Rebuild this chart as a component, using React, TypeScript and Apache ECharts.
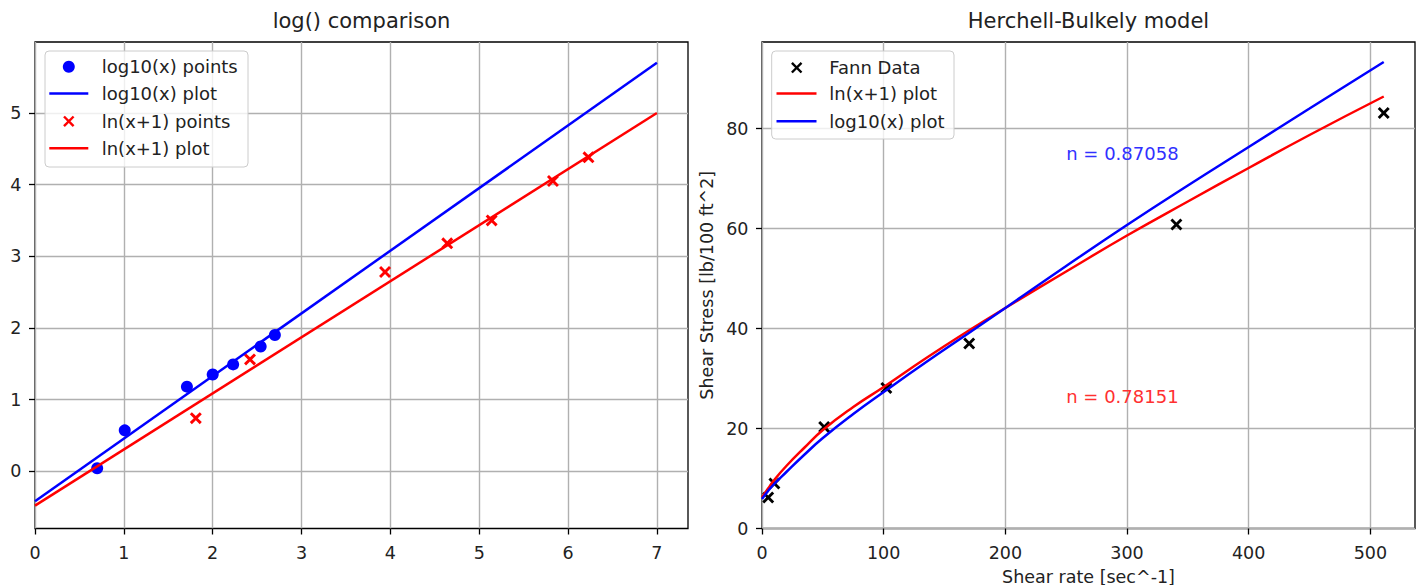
import React, { useEffect, useRef } from "react";
import * as echarts from "echarts";

// ---------- Left plot data: log() comparison ----------
const log10PointsX = [0.70, 1.01, 1.71, 2.00, 2.23, 2.54, 2.70];
const log10PointsY = [0.04, 0.57, 1.18, 1.35, 1.49, 1.74, 1.90];
const lnPointsX = [1.81, 2.42, 3.94, 4.64, 5.14, 5.83, 6.23];
const lnPointsY = [0.74, 1.56, 2.78, 3.18, 3.50, 4.05, 4.38];
const fitLineX = [0, 7];
const log10LineY = [-0.42, 5.70];
const lnLineY = [-0.48, 5.0];

// ---------- Right plot data: Herchell-Bulkely model ----------
const shearRate = [5.1, 10.2, 51.1, 102.2, 170.3, 340.6, 511];
const shearStress = [6.2, 9.0, 20.3, 28.1, 37.0, 60.8, 83.1];
const curveX = [0, 5, 10, 20, 35, 50, 75, 100, 135, 170, 200, 250, 300, 350, 400, 450, 511];
const lnCurveY = [6.2, 8.0, 9.7, 12.5, 16.2, 19.7, 24.3, 28.3, 34.1, 39.6, 44.1, 51.4, 58.6, 65.4, 72.1, 78.7, 86.4];
const log10CurveY = [5.9, 7.5, 8.9, 11.3, 14.8, 18.1, 22.9, 27.3, 33.3, 39.1, 44.1, 52.5, 60.7, 68.6, 76.3, 84.0, 93.3];
const nLog10Label = "n = 0.87058";
const nLnLabel = "n = 0.78151";
const nLog10Pos = [250, 75.1];
const nLnPos = [250, 26.5];

// ---------- Ticks ----------
const leftXTicks = [0, 1, 2, 3, 4, 5, 6, 7];
const leftYTicks = [0, 1, 2, 3, 4, 5];
const rightXTicks = [0, 100, 200, 300, 400, 500];
const rightYTicks = [0, 20, 40, 60, 80];

const FONT = "DejaVu Sans";
const TXT = "#222222";
const X_SYMBOL =
  "path://M0,1.7L1.7,0L5,3.3L8.3,0L10,1.7L6.7,5L10,8.3L8.3,10L5,6.7L1.7,10L0,8.3L3.3,5Z";

const zip = (a: number[], b: number[]) => a.map((v, i) => [v, b[i]]);

function axis(
  dim: "x" | "y",
  gridIndex: number,
  min: number,
  max: number,
  ticks: number[],
  extra: any = {}
) {
  return {
    type: "value",
    gridIndex,
    min,
    max,
    axisLine: { show: false, onZero: false },
    axisTick: {
      show: true,
      inside: false,
      length: 6,
      lineStyle: { color: "#000", width: 1.3 },
      customValues: ticks,
    },
    axisLabel: {
      customValues: ticks,
      color: TXT,
      fontSize: 17.5,
      fontFamily: FONT,
      margin: dim === "x" ? 15 : 13.5,
    },
    splitLine: { show: true, lineStyle: { color: "#b0b0b0", width: 1.4 } },
    ...extra,
  };
}

const legendBox = (x: number, y: number, w: number, h: number) => ({
  type: "rect",
  z: 100,
  shape: { x, y, width: w, height: h, r: 4 },
  style: { fill: "rgba(255,255,255,0.8)", stroke: "#cccccc", lineWidth: 1 },
});
const legLine = (x1: number, x2: number, y: number, color: string) => ({
  type: "line",
  z: 101,
  shape: { x1, y1: y, x2, y2: y },
  style: { stroke: color, lineWidth: 2.5 },
});
const legCircle = (cx: number, cy: number, color: string) => ({
  type: "circle",
  z: 101,
  shape: { cx, cy, r: 6 },
  style: { fill: color },
});
const legX = (cx: number, cy: number, color: string) => ({
  type: "group",
  children: [
    {
      type: "line",
      z: 101,
      shape: { x1: cx - 4.8, y1: cy - 4.8, x2: cx + 4.8, y2: cy + 4.8 },
      style: { stroke: color, lineWidth: 2.4 },
    },
    {
      type: "line",
      z: 101,
      shape: { x1: cx - 4.8, y1: cy + 4.8, x2: cx + 4.8, y2: cy - 4.8 },
      style: { stroke: color, lineWidth: 2.4 },
    },
  ],
});
const legText = (x: number, y: number, text: string) => ({
  type: "text",
  z: 101,
  x,
  y,
  style: {
    text,
    fill: TXT,
    fontSize: 18,
    fontFamily: FONT,
    align: "left",
    verticalAlign: "middle",
  },
});
const titleText = (x: number, y: number, text: string) => ({
  type: "text",
  z: 101,
  x,
  y,
  style: {
    text,
    fill: TXT,
    fontSize: 21,
    fontFamily: FONT,
    align: "center",
    verticalAlign: "middle",
  },
});

const gridBase = {
  top: 42,
  width: 653,
  height: 486.5,
  show: true,
  borderColor: "#000",
  borderWidth: 1.3,
  backgroundColor: "transparent",
  containLabel: false,
  outerBoundsMode: "none",
};

export default function App() {
  const ref = useRef<HTMLDivElement>(null);
  useEffect(() => {
    document.body.style.margin = "0";
    const chart = echarts.init(ref.current!, null, { renderer: "svg" });
    const option: any = {
      animation: false,
      backgroundColor: "#ffffff",
      grid: [
        { ...gridBase, left: 35 },
        { ...gridBase, left: 762 },
      ],
      xAxis: [
        axis("x", 0, 0, 7.35, leftXTicks),
        axis("x", 1, 0, 536.7, rightXTicks, {
          name: "Shear rate [sec^-1]",
          nameLocation: "middle",
          nameGap: 39,
          nameTextStyle: { color: TXT, fontSize: 17.5, fontFamily: FONT },
        }),
      ],
      yAxis: [
        axis("y", 0, -0.8, 5.99, leftYTicks),
        axis("y", 1, 0, 97.3, rightYTicks, {
          name: "Shear Stress [lb/100 ft^2]",
          nameLocation: "middle",
          nameGap: 46,
          nameTextStyle: { color: TXT, fontSize: 17.5, fontFamily: FONT },
        }),
      ],
      series: [
        {
          name: "log10(x) points",
          type: "scatter",
          xAxisIndex: 0,
          yAxisIndex: 0,
          data: zip(log10PointsX, log10PointsY),
          symbol: "circle",
          symbolSize: 12,
          itemStyle: { color: "#0000ff", opacity: 1 },
        },
        {
          name: "log10(x) plot",
          type: "line",
          xAxisIndex: 0,
          yAxisIndex: 0,
          data: zip(fitLineX, log10LineY),
          showSymbol: false,
          lineStyle: { color: "#0000ff", width: 2.5 },
          itemStyle: { color: "#0000ff" },
        },
        {
          name: "ln(x+1) points",
          type: "scatter",
          xAxisIndex: 0,
          yAxisIndex: 0,
          data: zip(lnPointsX, lnPointsY),
          symbol: X_SYMBOL,
          symbolSize: 12,
          itemStyle: { color: "#ff0000", opacity: 1 },
        },
        {
          name: "ln(x+1) plot",
          type: "line",
          xAxisIndex: 0,
          yAxisIndex: 0,
          data: zip(fitLineX, lnLineY),
          showSymbol: false,
          lineStyle: { color: "#ff0000", width: 2.5 },
          itemStyle: { color: "#ff0000" },
        },
        {
          name: "Fann Data",
          type: "scatter",
          xAxisIndex: 1,
          yAxisIndex: 1,
          data: zip(shearRate, shearStress),
          symbol: X_SYMBOL,
          symbolSize: 12,
          itemStyle: { color: "#000000", opacity: 1 },
        },
        {
          name: "ln(x+1) model",
          type: "line",
          xAxisIndex: 1,
          yAxisIndex: 1,
          data: zip(curveX, lnCurveY),
          showSymbol: false,
          smooth: 0.5,
          lineStyle: { color: "#ff0000", width: 2.5 },
          itemStyle: { color: "#ff0000" },
        },
        {
          name: "log10(x) model",
          type: "line",
          xAxisIndex: 1,
          yAxisIndex: 1,
          data: zip(curveX, log10CurveY),
          showSymbol: false,
          smooth: 0.5,
          lineStyle: { color: "#0000ff", width: 2.5 },
          itemStyle: { color: "#0000ff" },
        },
        {
          name: "n labels",
          type: "scatter",
          xAxisIndex: 1,
          yAxisIndex: 1,
          symbol: "circle",
          symbolSize: 0.1,
          itemStyle: { color: "transparent", opacity: 1 },
          data: [
            {
              value: nLog10Pos,
              label: { show: true, formatter: nLog10Label, color: "#3030ff" },
            },
            {
              value: nLnPos,
              label: { show: true, formatter: nLnLabel, color: "#ff3030" },
            },
          ],
          label: {
            show: true,
            position: "right",
            distance: 0,
            fontSize: 18,
            fontFamily: FONT,
            align: "left",
            verticalAlign: "middle",
          },
        },
      ],
      graphic: [
        titleText(361.5, 21, "log() comparison"),
        titleText(1088.5, 21, "Herchell-Bulkely model"),
        // left legend
        legendBox(45, 51, 203, 116),
        legCircle(68.8, 66.7, "#0000ff"),
        legText(101.7, 66.7, "log10(x) points"),
        legLine(49.3, 88.3, 93.6, "#0000ff"),
        legText(101.7, 93.6, "log10(x) plot"),
        legX(68.8, 121.3, "#ff0000"),
        legText(101.7, 121.3, "ln(x+1) points"),
        legLine(49.3, 88.3, 148.3, "#ff0000"),
        legText(101.7, 148.3, "ln(x+1) plot"),
        // right legend
        legendBox(771.7, 51, 182.3, 88),
        legX(796.7, 67.7, "#000000"),
        legText(829.3, 67.7, "Fann Data"),
        legLine(776.5, 816.5, 93.6, "#ff0000"),
        legText(829.3, 93.6, "ln(x+1) plot"),
        legLine(776.5, 816.5, 121.3, "#0000ff"),
        legText(829.3, 121.3, "log10(x) plot"),
      ],
    };
    chart.setOption(option);
    return () => chart.dispose();
  }, []);
  return <div ref={ref} style={{ width: 1421, height: 585 }} />;
}
